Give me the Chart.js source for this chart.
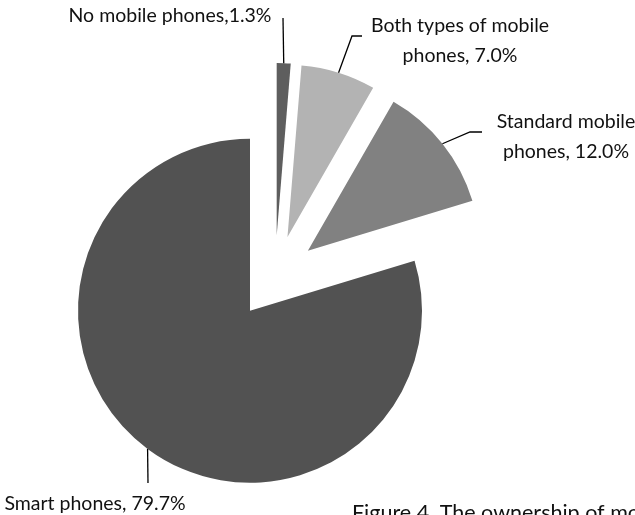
<!DOCTYPE html>
<html>
<head>
<meta charset="utf-8">
<script src="https://cdn.jsdelivr.net/npm/chart.js@4/dist/chart.umd.min.js"></script>
<style>
    html, body { margin: 0; padding: 0; background: #fff; }
    #ch { display: block; }
</style>
</head>
<body>
<canvas id="ch" width="635" height="515"></canvas>
<script>
// mobile phone ownership, share of respondents (%)
const categories = ['No mobile phones', 'Both types of mobile phones', 'Standard mobile phones', 'Smart phones'];
const shares = [1.3, 7.0, 12.0, 79.7];
const caption = 'Figure 4. The ownership of mobile phones';

const colors = ['#5e5e5e', '#b3b3b3', '#818181', '#525252'];
const RADIUS = 172;
const explode = 42;   // how far every slice is pulled out, px

// label layout: text centre, baseline, words on first line, leader elbow points
const labelLayout = [
    { x: 170, y: 22, sep: ',', wrap: 0, leader: [[283, 18]] },
    { x: 460, y: 32, sep: ', ', wrap: 4, leader: [[352, 36], [362, 36]] },
    { x: 566, y: 128, sep: ', ', wrap: 2, leader: [[470, 132], [482, 132]] },
    { x: 95, y: 510, sep: ', ', wrap: 0, leader: [[148, 483]] }
];
const FONT = '19.5px Lato';
const LINE_H = 30;

let midAngle = arc => (arc.startAngle + arc.endAngle) / 2;

// the built-in offset also trims thin slices, so pull each slice out by hand
let exploded = {
    id: 'exploded',
    beforeDatasetDraw(chart, args) {
        let ctx = chart.ctx;
        args.meta.data.forEach(arc => {
            let a = midAngle(arc);
            ctx.save();
            ctx.translate(Math.cos(a) * explode, Math.sin(a) * explode);
            arc.draw(ctx);
            ctx.restore();
        });
        return false;
    }
};

let labels = {
    id: 'labels',
    afterDatasetsDraw(chart) {
        let ctx = chart.ctx;
        let arcs = chart.getDatasetMeta(0).data;
        ctx.save();
        ctx.strokeStyle = '#000';
        ctx.lineWidth = 1.3;
        ctx.fillStyle = '#111';
        ctx.font = FONT;
        ctx.textAlign = 'center';
        ctx.textBaseline = 'alphabetic';

        arcs.forEach((arc, i) => {
            let a = midAngle(arc);
            let r = arc.outerRadius + explode;
            let lay = labelLayout[i];

            ctx.beginPath();
            ctx.moveTo(arc.x + Math.cos(a) * r, arc.y + Math.sin(a) * r);
            lay.leader.forEach(pt => ctx.lineTo(pt[0], pt[1]));
            ctx.stroke();

            let text = categories[i] + lay.sep + shares[i].toFixed(1) + '%';
            let lines = [text];
            if (lay.wrap) {
                let words = text.split(' ');
                lines = [words.slice(0, lay.wrap).join(' '), words.slice(lay.wrap).join(' ')];
            }
            lines.forEach((l, k) => ctx.fillText(l, lay.x, lay.y + k * LINE_H));
        });

        ctx.textAlign = 'left';
        ctx.font = '21.5px Lato';
        ctx.fillText(caption, 352, 520);
        ctx.restore();
    }
};

let pie = new Chart('ch', {
    type: 'pie',
    data: {
        labels: categories,
        datasets: [{
            data: shares,
            backgroundColor: colors,
            borderWidth: 0,
            radius: RADIUS,
            hoverOffset: 0
        }]
    },
    options: {
        responsive: false,
        animation: false,
        layout: { padding: { left: 0, right: 85, top: 39, bottom: 0 } },
        plugins: {
            legend: { display: false },
            tooltip: { enabled: false }
        },
        events: []
    },
    plugins: [exploded, labels]
});
</script>
</body>
</html>
